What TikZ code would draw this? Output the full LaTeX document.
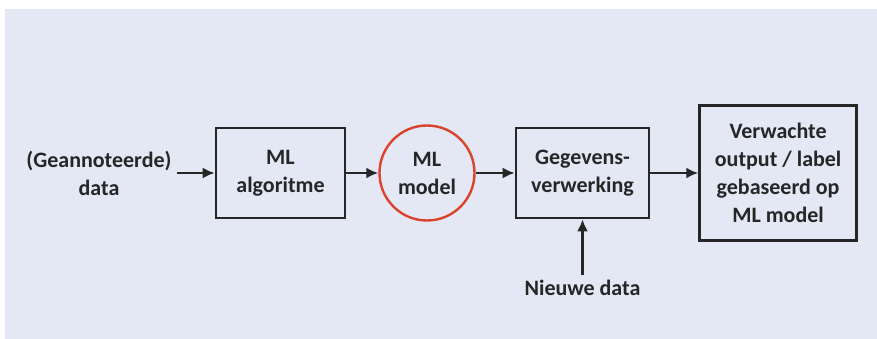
\documentclass[tikz,border=0pt]{standalone}
\usepackage{fontspec}
\setmainfont{Carlito}
\usepackage{xcolor}
\usetikzlibrary{
    positioning,
    arrows.meta
}
\definecolor{bgblue}{RGB}{228,232,245}
\definecolor{modelred}{RGB}{217,68,43}

\begin{document}
\begin{tikzpicture}[
    x=1pt, y=-1pt,
    every node/.style={font=\fontsize{22}{28}\selectfont\bfseries, text=black!85},
    block/.style={rectangle, draw=black!85, line width=2.6pt, fill=bgblue, align=center, minimum width=129pt, minimum height=90pt, inner sep=2pt},
    model/.style={circle, draw=modelred, line width=2.4pt, fill=bgblue, align=center, minimum size=95pt, inner sep=0pt},
    label/.style={align=center, inner sep=5pt},
    arrow/.style={-{Latex[length=12pt,width=11pt]}, line width=2.6pt, draw=black!85}
]
\useasboundingbox (0,0) rectangle (877,339);
\fill[bgblue] (5,9) rectangle (877,339);

\node[block] (algo) at (280.5,173) {ML\\algoritme};
\node[model, right=32pt of algo] (model) {ML\\model};
\node[block, minimum width=133pt, right=39pt of model] (verwerking) {Gegevens-\\verwerking};
\node[block, minimum width=157pt, minimum height=135pt, right=48pt of verwerking] (output) {Verwachte\\output / label\\gebaseerd op\\ML model};

\node[label, left=38pt of algo] (data) {(Geannoteerde)\\data};
\node[label, below=56pt of verwerking] (nieuw) {Nieuwe data};

\draw[arrow] (data) -- (algo);
\draw[arrow] (algo) -- (model);
\draw[arrow] (model) -- (verwerking);
\draw[arrow] (verwerking) -- (output);
\draw[arrow] (nieuw) -- (verwerking);

\end{tikzpicture}
\end{document}
